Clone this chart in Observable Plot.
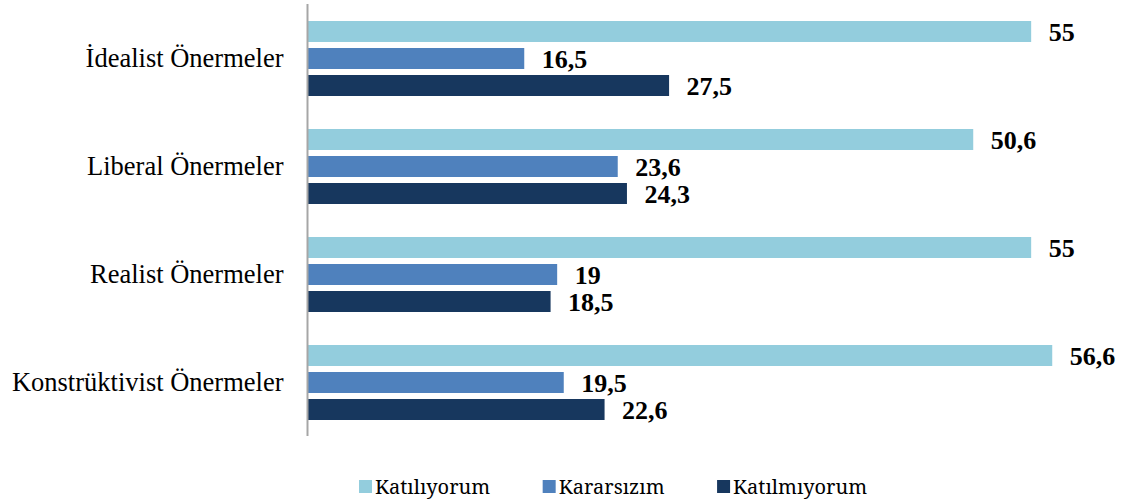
<!DOCTYPE html>
<html>
<head>
<meta charset="utf-8">
<script src="https://cdn.jsdelivr.net/npm/d3@7"></script>
<script src="https://cdn.jsdelivr.net/npm/@observablehq/plot@0.6"></script>
</head>
<body style="margin:0;padding:0;background:#fff">
<div id="chart" style="width:1125px"></div>
<script>
const categories = ["İdealist Önermeler", "Liberal Önermeler", "Realist Önermeler", "Konstrüktivist Önermeler"];
const series = ["Katılıyorum", "Kararsızım", "Katılmıyorum"];
const katiliyorum = [55, 50.6, 55, 56.6];
const kararsizim = [16.5, 23.6, 19, 19.5];
const katilmiyorum = [27.5, 24.3, 18.5, 22.6];
const colors = ["#93CDDD", "#4F81BD", "#17375E"];

const seriesValues = [katiliyorum, kararsizim, katilmiyorum];
const data = [];
categories.forEach((c, i) => {
  series.forEach((s, j) => {
    data.push({category: c, series: s, value: seriesValues[j][i]});
  });
});
const fmt = v => String(v).replace(".", ",");

const plot = Plot.plot({
  width: 1125,
  height: 450,
  marginLeft: 307,
  marginRight: 28,
  marginTop: 4,
  marginBottom: 14,
  style: {fontFamily: "Liberation Serif", fontSize: "26px", color: "#000", background: "white"},
  x: {domain: [0, 60], axis: null},
  y: {domain: series, axis: null, paddingInner: 6 / 27, paddingOuter: 0.6111},
  fy: {domain: categories, padding: 0, axis: null},
  color: {domain: series, range: colors},
  marks: [
    Plot.barX(data, {x: "value", y: "series", fy: "category", fill: "series"}),
    Plot.text(data, {x: "value", y: "series", fy: "category", text: d => fmt(d.value),
      textAnchor: "start", dx: 17, dy: 1, fontWeight: "bold", fontSize: 26, fontFamily: "Liberation Serif", fill: "#000"}),
    Plot.ruleX([0], {stroke: "#A6A6A6", strokeWidth: 2}),
    Plot.axisFy({anchor: "left", tickSize: 0, tickPadding: 24, fontSize: 26.5, fontFamily: "Liberation Serif", label: null, fill: "#000"})
  ]
});
const chart = document.getElementById("chart");
chart.appendChild(plot);

// Legend below the plot (separate SVG)
const legendSvg = d3.create("svg")
  .attr("width", 1125)
  .attr("height", 52)
  .style("display", "block")
  .style("background", "white");
chart.appendChild(legendSvg.node());
let x0 = 359;
const cy = 37;
series.forEach((s, j) => {
  const g = legendSvg.append("g");
  g.append("rect")
    .attr("x", x0).attr("y", cy - 7).attr("width", 13).attr("height", 13)
    .attr("fill", colors[j]);
  const t = g.append("text")
    .attr("x", x0 + 16).attr("y", cy)
    .attr("dy", "0.35em")
    .attr("font-family", "Noto Serif")
    .attr("font-size", 20)
    .attr("fill", "#000")
    .text(s);
  const w = t.node().getComputedTextLength();
  x0 = x0 + 16 + w + 52.5;
});
</script>
</body>
</html>
